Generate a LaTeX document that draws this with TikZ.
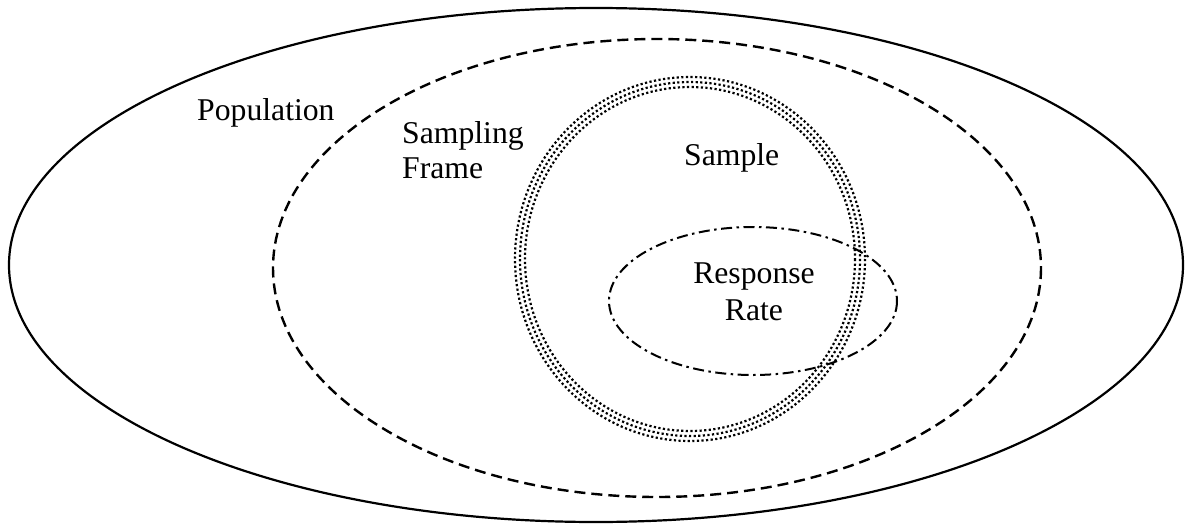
\documentclass[tikz,border=0pt]{standalone}
\usepackage{fontspec}
\setmainfont{Liberation Serif}
\begin{document}
\begin{tikzpicture}[x=1pt,y=-1pt,
  lbl/.style={inner sep=0pt, font=\fontsize{31.7}{36}\selectfont},
  popline/.style={line width=2.2pt},
  frameline/.style={line width=2.4pt, dash pattern=on 11pt off 6pt},
  sampline/.style={line width=2.2pt, dash pattern=on 2.2pt off 2.4pt},
  respline/.style={line width=2pt, dash pattern=on 11pt off 4.5pt on 2.5pt off 4.5pt}]
\useasboundingbox (0,0) rectangle (1186,527);
% Population
\draw[popline] (596,265) ellipse [x radius=587, y radius=257];
% Sampling frame
\draw[frameline] (657,268) ellipse [x radius=384, y radius=229];
% Sample (triple dotted)
\draw[sampline] (690,259) ellipse [x radius=175, y radius=182];
\draw[sampline] (690,259) ellipse [x radius=170, y radius=177];
\draw[sampline] (690,259) ellipse [x radius=165, y radius=172];
% Response rate
\draw[respline] (753,301) ellipse [x radius=144, y radius=74];
% Labels
\node[lbl, anchor=base west] (pop) at (197,121) {Population};
\node[lbl, anchor=base west] (sf1) at (402,143) {Sampling};
\node[lbl, anchor=base west] (sf2) at (402,178) {Frame};
\node[lbl, anchor=base west] (samp) at (684,165) {Sample};
\node[lbl, anchor=base] (rr1) at (754,283) {Response};
\node[lbl, anchor=base] (rr2) at (754,320) {Rate};
\end{tikzpicture}
\end{document}
